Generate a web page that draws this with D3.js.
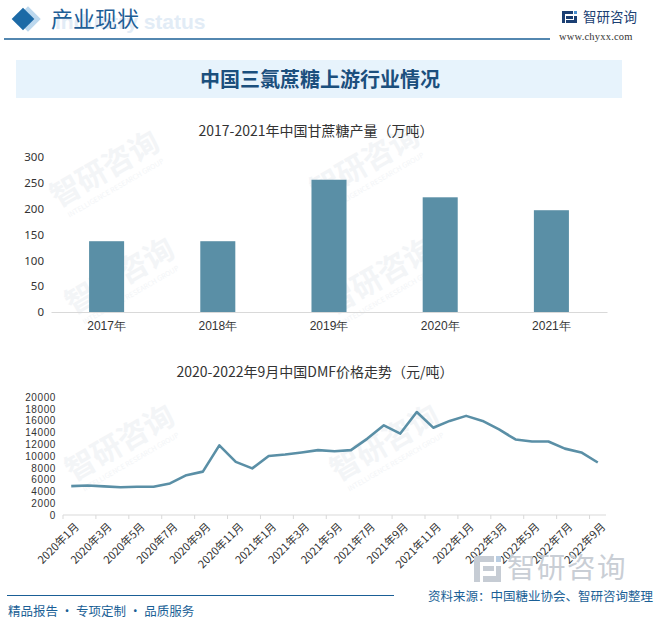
<!DOCTYPE html>
<html><head><meta charset="utf-8">
<script src="https://cdn.jsdelivr.net/npm/d3@7"></script>
<style>
html,body{margin:0;padding:0;background:#fff;}
svg{display:block;font-family:"Noto Sans CJK SC","Noto Sans",sans-serif;}
</style></head>
<body><svg id="c" width="655" height="620"></svg>
<script>
// ---- data ----
const barCategories = ["2017年","2018年","2019年","2020年","2021年"];
const barValues = [137, 137, 256, 222, 197];
const barTicks = [0, 50, 100, 150, 200, 250, 300];

const lineMonths = [
 "2020年1月","2020年2月","2020年3月","2020年4月","2020年5月","2020年6月","2020年7月","2020年8月","2020年9月","2020年10月","2020年11月","2020年12月",
 "2021年1月","2021年2月","2021年3月","2021年4月","2021年5月","2021年6月","2021年7月","2021年8月","2021年9月","2021年10月","2021年11月","2021年12月",
 "2022年1月","2022年2月","2022年3月","2022年4月","2022年5月","2022年6月","2022年7月","2022年8月","2022年9月"];
const lineValues = [4900, 5000, 4850, 4700, 4800, 4800, 5350, 6750, 7350, 11800, 9000, 7900,
 10000, 10250, 10600, 11000, 10800, 11000, 12950, 15200, 13800, 17450, 14800, 15950,
 16800, 15950, 14500, 12800, 12450, 12450, 11250, 10600, 8900];
const lineTicks = [0,2000,4000,6000,8000,10000,12000,14000,16000,18000,20000];

const svg = d3.select("#c");
const BLUE = "#1a5f96";
const MARK = "#5a8fa6";

// ---- watermarks ----
const wm = svg.append("g");
[[110,178],[370,172],[125,285],[385,285],[125,452],[390,452]].forEach(([x,y])=>{
  const g = wm.append("g").attr("transform",`translate(${x},${y}) rotate(-30)`);
  g.append("text").attr("text-anchor","middle").attr("font-size",30).attr("font-weight","bold")
   .attr("fill","#f3f5f7").text("智研咨询");
  g.append("text").attr("text-anchor","middle").attr("y",14).attr("font-size",7)
   .attr("fill","#f3f5f7").text("INTELLIGENCE RESEARCH GROUP");
});

// ---- header ----
svg.append("text").attr("x",55).attr("y",29).attr("font-size",21).attr("font-weight","bold")
  .attr("font-family","Liberation Sans, Arial, sans-serif").attr("fill","#e2ecf6").text("Industry status");
svg.append("rect").attr("x",-9).attr("y",-9).attr("width",18).attr("height",18)
  .attr("transform","translate(28,19) rotate(45)").attr("fill","#bcd8ee");
svg.append("rect").attr("x",-8).attr("y",-8).attr("width",16).attr("height",16)
  .attr("transform","translate(23,19) rotate(45)").attr("fill","#1c6aa6");
svg.append("text").attr("x",51).attr("y",27).attr("font-size",22).attr("fill","#1e5e96").text("产业现状");
svg.append("line").attr("x1",4).attr("x2",550).attr("y1",39).attr("y2",39).attr("stroke",BLUE).attr("stroke-width",1.5);

// logo
const lg = svg.append("g").attr("transform","translate(562,11)");
lg.append("rect").attr("x",0).attr("y",0).attr("width",11).attr("height",3).attr("fill","#1b3f73");
lg.append("rect").attr("x",0).attr("y",0).attr("width",3).attr("height",12).attr("fill","#1b3f73");
lg.append("rect").attr("x",4).attr("y",5).attr("width",7).attr("height",3).attr("fill","#1b3f73");
lg.append("rect").attr("x",12).attr("y",0).attr("width",3).attr("height",3).attr("fill","#4a90d0");
lg.append("rect").attr("x",12).attr("y",5).attr("width",3).attr("height",7).attr("fill","#1b3f73");
lg.append("rect").attr("x",4).attr("y",9).attr("width",8).attr("height",3).attr("fill","#1b3f73");
svg.append("text").attr("x",583).attr("y",22).attr("font-size",13.5).attr("fill","#1b3f73").text("智研咨询");
svg.append("text").attr("x",559).attr("y",40).attr("font-size",10.5).attr("font-family","Liberation Serif, serif")
  .attr("fill","#333").attr("letter-spacing",0.2).text("www.chyxx.com");

// ---- title box ----
svg.append("rect").attr("x",16).attr("y",60).attr("width",606).attr("height",38).attr("fill","#e7f3fc");
svg.append("text").attr("x",320).attr("y",87).attr("text-anchor","middle").attr("font-size",20)
  .attr("font-weight","bold").attr("fill","#1b4f7d").text("中国三氯蔗糖上游行业情况");

// ---- bar chart ----
svg.append("text").attr("x",316).attr("y",136).attr("text-anchor","middle").attr("font-size",14)
  .attr("fill","#333").text("2017-2021年中国甘蔗糖产量（万吨）");
const bx = d3.scaleBand().domain(barCategories).range([51,607]).paddingInner(0.685).paddingOuter(0.3425);
const by = d3.scaleLinear().domain([0,300]).range([312,157]);
const bg = svg.append("g");
bg.selectAll("rect.bar").data(barValues).join("rect").attr("class","bar")
  .attr("x",(d,i)=>bx(barCategories[i])).attr("width",bx.bandwidth())
  .attr("y",d=>by(d)).attr("height",d=>by(0)-by(d)).attr("fill",MARK);
const byAxis = svg.append("g").attr("transform","translate(44,0)")
  .call(d3.axisLeft(by).tickValues(barTicks).tickSize(0).tickPadding(0));
byAxis.select(".domain").remove();
byAxis.selectAll("text").attr("font-size",11.5).attr("fill","#333").attr("font-family","Noto Sans, sans-serif");
const bxAxis = svg.append("g").attr("transform","translate(0,312)")
  .call(d3.axisBottom(bx).tickSize(0).tickPadding(9));
bxAxis.select(".domain").attr("stroke","#d9d9d9");
bxAxis.selectAll("text").attr("font-size",12).attr("fill","#333");

// ---- line chart ----
svg.append("text").attr("x",315).attr("y",377).attr("text-anchor","middle").attr("font-size",14)
  .attr("fill","#333").text("2020-2022年9月中国DMF价格走势（元/吨）");
const lx = d3.scaleBand().domain(lineMonths).range([63,606]);
const ly = d3.scaleLinear().domain([0,20000]).range([515,397]);
const lyAxis = svg.append("g").attr("transform","translate(56,0)")
  .call(d3.axisLeft(ly).tickValues(lineTicks).tickFormat(d3.format("d")).tickSize(0).tickPadding(0));
lyAxis.select(".domain").remove();
lyAxis.selectAll("text").attr("font-size",10).attr("letter-spacing",0.6).attr("fill","#333")
  .attr("font-family","Liberation Sans, Arial, sans-serif");
// axis line
const lxAxis = svg.append("g").attr("transform","translate(0,515)");
lxAxis.append("line").attr("x1",lx.range()[0]).attr("x2",lx.range()[1]).attr("stroke","#d9d9d9");
const tickIdx = lineMonths.map((d,i)=>i).filter(i=>i%2===0);
lxAxis.selectAll("line.tk").data(tickIdx).join("line").attr("class","tk")
  .attr("x1",i=>lx(lineMonths[i])).attr("x2",i=>lx(lineMonths[i])).attr("y1",0).attr("y2",4).attr("stroke","#d9d9d9");
lxAxis.selectAll("text").data(tickIdx).join("text")
  .attr("transform",i=>`translate(${lx(lineMonths[i])+lx.bandwidth()/2+3},7) rotate(-45)`)
  .attr("text-anchor","end").attr("dy","0.7em").attr("font-size",11).attr("fill","#333")
  .text(i=>lineMonths[i]);
const line = d3.line().x((d,i)=>lx(lineMonths[i])+lx.bandwidth()/2).y(d=>ly(d));
svg.append("path").datum(lineValues).attr("d",line).attr("fill","none")
  .attr("stroke",MARK).attr("stroke-width",2.6).attr("stroke-linejoin","round");

// ---- footer watermark logo ----
const fl = svg.append("g").attr("transform","translate(474,556)").attr("fill","#c6ccd4");
fl.append("rect").attr("x",0).attr("y",0).attr("width",20).attr("height",6);
fl.append("rect").attr("x",0).attr("y",0).attr("width",6).attr("height",26);
fl.append("rect").attr("x",9).attr("y",10).attr("width",11).attr("height",5);
fl.append("rect").attr("x",22).attr("y",0).attr("width",5).attr("height",6).attr("fill","#b9cde2");
fl.append("rect").attr("x",22).attr("y",10).attr("width",5).attr("height",16);
fl.append("rect").attr("x",9).attr("y",20).attr("width",14).attr("height",6);
svg.append("text").attr("x",507).attr("y",578).attr("font-size",28.5).attr("letter-spacing",1.5)
  .attr("fill","#c9ced5").text("智研咨询");

// ---- footer ----
svg.append("line").attr("x1",7).attr("x2",394).attr("y1",595.5).attr("y2",595.5).attr("stroke",BLUE).attr("stroke-width",1.2);
svg.append("text").attr("x",653).attr("y",601).attr("text-anchor","end").attr("font-size",12.5)
  .attr("fill",BLUE).text("资料来源：中国糖业协会、智研咨询整理");
svg.append("text").attr("x",8).attr("y",616).attr("font-size",12.5).attr("fill",BLUE).text("精品报告 · 专项定制 · 品质服务");
</script></body></html>
